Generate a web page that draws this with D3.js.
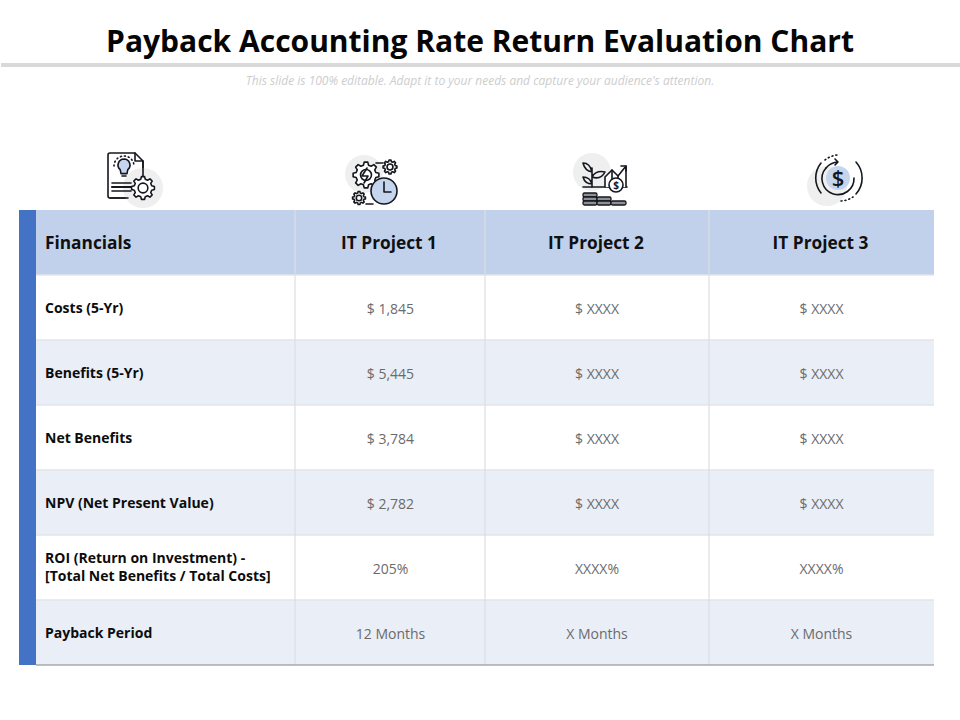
<!DOCTYPE html>
<html>
<head>
<meta charset="utf-8">
<script src="https://cdn.jsdelivr.net/npm/d3@7"></script>
<style>
  html, body { margin: 0; padding: 0; background: #fff; }
  text { font-family: "Open Sans", "Noto Sans", sans-serif; }
  .icon * { fill: none; stroke: #14171d; stroke-width: 1.6; stroke-linecap: round; stroke-linejoin: round; }
  .icon .blob { fill: #efefef; stroke: none; }
  .icon .accent { fill: #c5d5ee; }
  .icon .white { fill: #fff; }
  .icon .coin { fill: #8d9096; stroke-width: 1.3; }
  .icon .dots { stroke-dasharray: 1 3; }
</style>
</head>
<body>
<div id="chart"></div>
<script>
// Table content
const titleText = "Payback Accounting Rate Return Evaluation Chart";
const subtitleText = "This slide is 100% editable. Adapt it to your needs and capture your audience's attention.";
const columns = ["Financials", "IT Project 1", "IT Project 2", "IT Project 3"];
const rowLabels = [
    ["Costs (5-Yr)"],
    ["Benefits (5-Yr)"],
    ["Net Benefits"],
    ["NPV (Net Present Value)"],
    ["ROI (Return on Investment) -", "[Total Net Benefits / Total Costs]"],
    ["Payback Period"]
];
const project1 = ["$ 1,845", "$ 5,445", "$ 3,784", "$ 2,782", "205%", "12 Months"];
const project2 = ["$ XXXX", "$ XXXX", "$ XXXX", "$ XXXX", "XXXX%", "X Months"];
const project3 = ["$ XXXX", "$ XXXX", "$ XXXX", "$ XXXX", "XXXX%", "X Months"];
const projects = [project1, project2, project3];

const width = 960, height = 720;

// Column edges are unequal, so the x positions come from an ordinal scale
const xEdge = d3.scaleOrdinal().domain([0, 1, 2, 3, 4]).range([36, 295, 485, 709, 934]);
const xCenter = i => (xEdge(i) + xEdge(i + 1)) / 2;

const rowKeys = ["header"].concat(d3.range(rowLabels.length));
const yRow = d3.scaleBand().domain(rowKeys).range([210, 665]);

const svg = d3.select("#chart").append("svg")
    .attr("width", width)
    .attr("height", height)
    .style("display", "block");

// Title block
svg.append("text")
    .attr("x", 480).attr("y", 52)
    .attr("text-anchor", "middle")
    .attr("font-size", 30)
    .attr("font-weight", 700)
    .attr("fill", "#050505")
    .text(titleText);

svg.append("rect")
    .attr("x", 1).attr("y", 63)
    .attr("width", 959).attr("height", 4)
    .attr("fill", "#d9d9d9");

svg.append("text")
    .attr("x", 480).attr("y", 85)
    .attr("text-anchor", "middle")
    .attr("font-size", 12)
    .attr("font-style", "italic")
    .attr("fill", "#cdcdcd")
    .text(subtitleText);

// Row backgrounds
svg.selectAll(".row-bg")
    .data(rowKeys)
    .enter().append("rect")
    .attr("class", "row-bg")
    .attr("x", xEdge(0))
    .attr("y", d => yRow(d))
    .attr("width", xEdge(4) - xEdge(0))
    .attr("height", yRow.bandwidth())
    .attr("fill", (d, i) => i === 0 ? "#c1d1ec" : (i % 2 === 0 ? "#e9eef7" : "#ffffff"));

// Row and column rules
svg.selectAll(".row-line")
    .data(rowKeys.slice(1))
    .enter().append("line")
    .attr("class", "row-line")
    .attr("x1", xEdge(0)).attr("x2", xEdge(4))
    .attr("y1", d => yRow(d)).attr("y2", d => yRow(d))
    .attr("stroke", "#e2e4e8")
    .attr("stroke-width", 1.5);

svg.selectAll(".col-line")
    .data([1, 2, 3])
    .enter().append("line")
    .attr("class", "col-line")
    .attr("x1", d => xEdge(d)).attr("x2", d => xEdge(d))
    .attr("y1", yRow.range()[0]).attr("y2", yRow.range()[1])
    .attr("stroke", "#dcdee3")
    .attr("stroke-width", 1.2);

// Blue side bar and bottom rule
svg.append("rect")
    .attr("x", 19).attr("y", 210)
    .attr("width", xEdge(0) - 19).attr("height", 455)
    .attr("fill", "#4472c4");

svg.append("line")
    .attr("x1", xEdge(0)).attr("x2", xEdge(4))
    .attr("y1", 665).attr("y2", 665)
    .attr("stroke", "#a6a8ad")
    .attr("stroke-width", 1.5);

// Header text
svg.selectAll(".col-head")
    .data(columns)
    .enter().append("text")
    .attr("class", "col-head")
    .attr("x", (d, i) => i === 0 ? 45 : xCenter(i) - 1)
    .attr("y", yRow("header") + yRow.bandwidth() / 2 + 6)
    .attr("text-anchor", (d, i) => i === 0 ? "start" : "middle")
    .attr("font-size", 17.3)
    .attr("font-weight", 700)
    .attr("fill", "#101010")
    .text(d => d);

// Row labels, ROI takes two lines
const labelGroups = svg.selectAll(".row-label")
    .data(rowLabels)
    .enter().append("text")
    .attr("class", "row-label")
    .attr("font-size", 14)
    .attr("font-weight", 700)
    .attr("fill", "#0c0c0c");

labelGroups.selectAll("tspan")
    .data((d, i) => d.map((line, j) => ({ line: line, j: j, row: i })))
    .enter().append("tspan")
    .attr("x", 45)
    .attr("y", d => yRow(d.row) + (rowLabels[d.row].length > 1 ? 28 : 38) + d.j * 18)
    .text(d => d.line);

// Project values
projects.forEach(function(values, p) {
    svg.selectAll(".val-" + p)
        .data(values)
        .enter().append("text")
        .attr("class", "val-" + p)
        .attr("x", xCenter(p + 1) + (p === 0 ? 0.5 : 0))
        .attr("y", (d, i) => yRow(i) + 39)
        .attr("text-anchor", "middle")
        .attr("font-size", 14)
        .attr("fill", "#6b6b6b")
        .text(d => d);
});

// Gear outline made of teeth around a ring
function gear(g, cx, cy, r, teeth) {
    const pts = [];
    d3.range(teeth).forEach(function(i) {
        const a = i / teeth * 2 * Math.PI, w = Math.PI / teeth * 0.5;
        pts.push([a - w * 1.3, r * 0.78], [a - w * 0.7, r], [a + w * 0.7, r], [a + w * 1.3, r * 0.78]);
    });
    g.append("path")
        .attr("class", "white")
        .attr("transform", "translate(" + cx + "," + cy + ")")
        .attr("d", d3.lineRadial().angle(d => d[0]).radius(d => d[1]).curve(d3.curveLinearClosed)(pts));
    g.append("circle").attr("cx", cx).attr("cy", cy).attr("r", r * 0.42);
}

function line(g, x1, y1, x2, y2, sw) {
    g.append("line").attr("x1", x1).attr("y1", y1).attr("x2", x2).attr("y2", y2)
        .style("stroke-width", sw || 1.6);
}

// Icon 1: document with bulb and gear
const icon1 = svg.append("g").attr("class", "icon");
icon1.append("path").attr("class", "white")
    .attr("d", "M110 153 H135 L143 161 V178 M128 198 H110 Q108 198 108 196 V155 Q108 153 110 153");
icon1.append("circle").attr("class", "blob").attr("cx", 143).attr("cy", 188).attr("r", 20);
icon1.append("path").attr("d", "M135 153 V161 H143 M143 161 V176 M128 198 H110");
icon1.append("path").attr("class", "accent")
    .attr("d", "M124 159 a6 6 0 0 1 3.8 10.6 l-0.8 4 h-6 l-0.8 -4 a6 6 0 0 1 3.8 -10.6z");
line(icon1, 122, 176, 126, 176);
icon1.append("path").attr("class", "dots").attr("d", "M114 166 A10 10 0 0 1 134 166");
line(icon1, 112, 183, 131, 183);
line(icon1, 112, 187, 131, 187, 2.2);
line(icon1, 112, 191, 131, 191);
gear(icon1, 143, 188, 11.5, 8);

// Icon 2: gears, bolt and clock
const icon2 = svg.append("g").attr("class", "icon");
icon2.append("circle").attr("class", "blob").attr("cx", 364).attr("cy", 174).attr("r", 19);
gear(icon2, 366, 175, 13, 8);
icon2.append("path").attr("d", "M367 168 L362 176 H368 L364 183");
gear(icon2, 390, 167, 7, 8);
gear(icon2, 359, 198, 6.5, 8);
icon2.append("path").attr("d", "M376 163 H383 M366 204 H373");
icon2.append("circle").attr("class", "accent").attr("cx", 384).attr("cy", 191).attr("r", 13);
icon2.append("path").attr("d", "M384 182 V192 H391");

// Icon 3: plant, bar chart, coin and coin stacks
const icon3 = svg.append("g").attr("class", "icon");
icon3.append("circle").attr("class", "blob").attr("cx", 592).attr("cy", 172).attr("r", 19);
icon3.append("path").attr("d", "M592 187 V168 M592 172 Q590 163 583 163 Q585 171 592 172 M592 177 Q596 170 605 172 Q601 180 592 177 M592 184 Q590 177 583 177 Q585 184 592 184");
icon3.append("path").attr("d", "M583 187 H627");
icon3.append("path").attr("class", "white").attr("d", "M605 187 V177 L612 170 L618 176 L626 166 V187");
icon3.append("path").attr("d", "M626 166 L621 166 M626 166 L626 171 M612 170 V180 M618 176 V180");
icon3.append("circle").attr("class", "white").attr("cx", 616).attr("cy", 185).attr("r", 7);
icon3.append("text").attr("x", 616).attr("y", 189).attr("text-anchor", "middle")
    .attr("font-size", 10).style("stroke", "none").style("fill", "#14171d").attr("font-weight", 700).text("$");
[[583, 193, 14], [583, 197, 14], [583, 201, 14], [597, 197, 14], [597, 201, 14], [611, 201, 15]].forEach(function(c) {
    icon3.append("rect").attr("class", "coin").attr("x", c[0]).attr("y", c[1]).attr("width", c[2]).attr("height", 4).attr("rx", 1.5);
});

// Icon 4: dollar in circling arrows
const icon4 = svg.append("g").attr("class", "icon");
icon4.append("circle").attr("class", "blob").attr("cx", 827).attr("cy", 186).attr("r", 20);
icon4.append("circle").attr("class", "accent").attr("cx", 838).attr("cy", 178).attr("r", 12).style("stroke", "none");
icon4.append("path").attr("d", "M826 168 A16 16 0 1 0 854 178");
icon4.append("path").attr("d", "M826 168 A17 17 0 0 1 838 162 M835 159 L838 162 L835 165");
icon4.append("path").attr("d", "M821 163 A24 24 0 0 0 821 193");
icon4.append("path").attr("d", "M856 162 A24 24 0 0 1 856 194");
icon4.append("path").attr("class", "dots").attr("d", "M825 160 A24 24 0 0 1 837 155 M841 201 A24 24 0 0 0 853 197");
icon4.append("text").attr("x", 838).attr("y", 186).attr("text-anchor", "middle")
    .attr("font-size", 22).style("stroke", "none").style("fill", "#14171d").attr("font-weight", 600).text("$");
</script>
</body>
</html>
